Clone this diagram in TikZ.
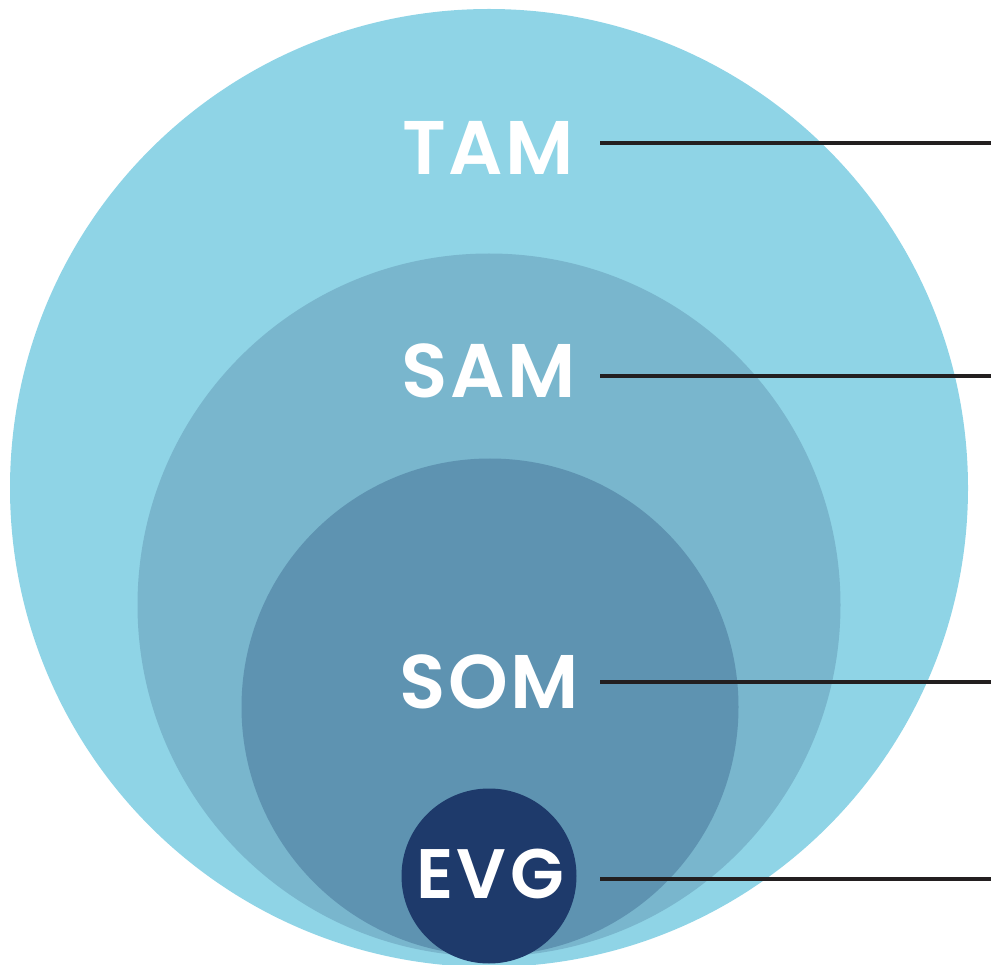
\documentclass[tikz,border=0pt]{standalone}
\usepackage{fontspec}
\setmainfont{Poppins}[UprightFont=* SemiBold]
\definecolor{tamc}{HTML}{8FD4E6}
\definecolor{samc}{HTML}{79B6CD}
\definecolor{somc}{HTML}{5E93B1}
\definecolor{evgc}{HTML}{1E3A6B}
\definecolor{linec}{HTML}{231F20}
\tikzset{
  ring/.style={circle, inner sep=0pt, draw=none},
  lbl/.style={text=white, inner sep=0pt, anchor=center, font=\addfontfeature{LetterSpace=3.5}\fontsize{76}{76}\selectfont},
  leader/.style={draw=linec, line width=4.5pt}
}
\begin{document}
\begin{tikzpicture}[x=1pt,y=-1pt]
\useasboundingbox (0,0) rectangle (991,965);
\node[ring, fill=tamc, minimum size=958pt] (tam) at (489,488) {};
\node[ring, fill=samc, minimum size=703pt] (sam) at (489,605) {};
\node[ring, fill=somc, minimum size=497pt] (som) at (490,707) {};
\node[ring, fill=evgc, minimum size=175pt] (evg) at (489,876) {};
\node[lbl] (tamt) at (488,148) {TAM};
\node[lbl] (samt) at (489,371) {SAM};
\node[lbl] (somt) at (489,682) {SOM};
\node[lbl, font=\addfontfeature{LetterSpace=5}\fontsize{70}{70}\selectfont] (evgt) at (490,874) {EVG};
\coordinate (tama) at (600,143); \coordinate (tamb) at (991,143);
\coordinate (sama) at (600,376); \coordinate (samb) at (991,376);
\coordinate (soma) at (600,682); \coordinate (somb) at (991,682);
\coordinate (evga) at (600,879); \coordinate (evgb) at (991,879);
\draw[leader] (tama) -- (tamb);
\draw[leader] (sama) -- (samb);
\draw[leader] (soma) -- (somb);
\draw[leader] (evga) -- (evgb);
\end{tikzpicture}
\end{document}
